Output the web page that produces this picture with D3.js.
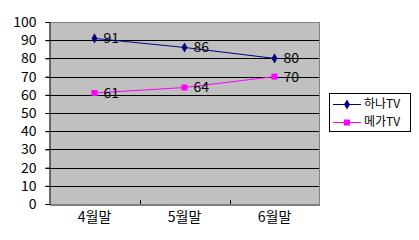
<!DOCTYPE html>
<html><head><meta charset="utf-8">
<script src="https://cdn.jsdelivr.net/npm/d3@7"></script>
<style>body{margin:0;background:#fff}svg{display:block}text{font-family:"Noto Sans CJK KR","DejaVu Sans",sans-serif}</style>
</head><body><svg id="c" width="419" height="240"></svg>
<script>
const categories = ["4월말","5월말","6월말"];
const seriesNames = ["하나TV","메가TV"];
const hanaValues = [91,86,80];
const megaValues = [61,64,70];
const yTicks = [0,10,20,30,40,50,60,70,80,90,100];
const colors = ["#000080","#ff00ff"];

const svg = d3.select("#c");
const L=49.5, R=319.5, T=22, B=204;
const x = d3.scaleBand().domain(categories).range([L,R]);
const y = d3.scaleLinear().domain([0,100]).range([B,T]);

svg.append("rect").attr("x",L).attr("y",T).attr("width",R-L).attr("height",B-T).attr("fill","#c0c0c0");
svg.append("g").selectAll("line").data(yTicks.filter(d=>d>0)).join("line")
 .attr("x1",L-4).attr("x2",R).attr("y1",d=>Math.round(y(d))+0.5).attr("y2",d=>Math.round(y(d))+0.5)
 .attr("stroke","#000").attr("stroke-width",1);
svg.append("path").attr("d",`M${L},${T+0.5}H${R}V${B}`).attr("fill","none").attr("stroke","#808080");
const yAxis = d3.axisLeft(y).tickValues(yTicks).tickSize(4).tickPadding(9);
const gy = svg.append("g").attr("transform",`translate(${L},0)`).call(yAxis);
gy.selectAll("text").attr("font-size",14).attr("fill","#000");
gy.select(".domain").attr("stroke","#000");
const gx = svg.append("g").attr("transform",`translate(0,${B+0.5})`).call(d3.axisBottom(x).tickSize(0).tickPadding(8));
gx.select(".domain").attr("stroke","#000");
gx.selectAll("text").attr("font-size",14).attr("fill","#000");
const bounds = categories.slice(1).map(c=>x(c));
svg.append("g").selectAll("line").data(bounds).join("line")
 .attr("x1",d=>Math.round(d)+0.5).attr("x2",d=>Math.round(d)+0.5).attr("y1",B).attr("y2",B-4).attr("stroke","#000");

const data = [hanaValues, megaValues];
const cx = c=>x(c)+x.bandwidth()/2;
data.forEach((vals,i)=>{
  const pts = vals.map((v,j)=>[cx(categories[j]), y(v)]);
  svg.append("path").attr("d",d3.line()(pts)).attr("fill","none").attr("stroke",colors[i]).attr("stroke-width",1);
  const sym = i===0 ? d3.symbol(d3.symbolDiamond,30) : d3.symbol(d3.symbolSquare,36);
  svg.append("g").selectAll("path").data(pts).join("path")
   .attr("transform",d=>`translate(${d[0]},${d[1]})`).attr("d",sym).attr("fill",colors[i]);
  svg.append("g").selectAll("text").data(vals).join("text")
   .attr("x",(v,j)=>pts[j][0]+9).attr("y",(v,j)=>pts[j][1]).attr("dy","0.35em")
   .attr("font-size",14).attr("fill","#000").text(v=>v);
});

const lg = svg.append("g");
lg.append("rect").attr("x",329.5).attr("y",93.5).attr("width",81).attr("height",38).attr("fill","#fff").attr("stroke","#000");
seriesNames.forEach((n,i)=>{
  const yy = 104 + i*18;
  lg.append("line").attr("x1",333).attr("x2",361).attr("y1",yy+0.5).attr("y2",yy+0.5).attr("stroke",colors[i]);
  const sym = i===0 ? d3.symbol(d3.symbolDiamond,30) : d3.symbol(d3.symbolSquare,36);
  lg.append("path").attr("transform",`translate(347,${yy+0.5})`).attr("d",sym).attr("fill",colors[i]);
  lg.append("text").attr("x",364).attr("y",yy).attr("dy","0.35em").attr("font-size",12).attr("fill","#000").text(n);
});
</script></body></html>
